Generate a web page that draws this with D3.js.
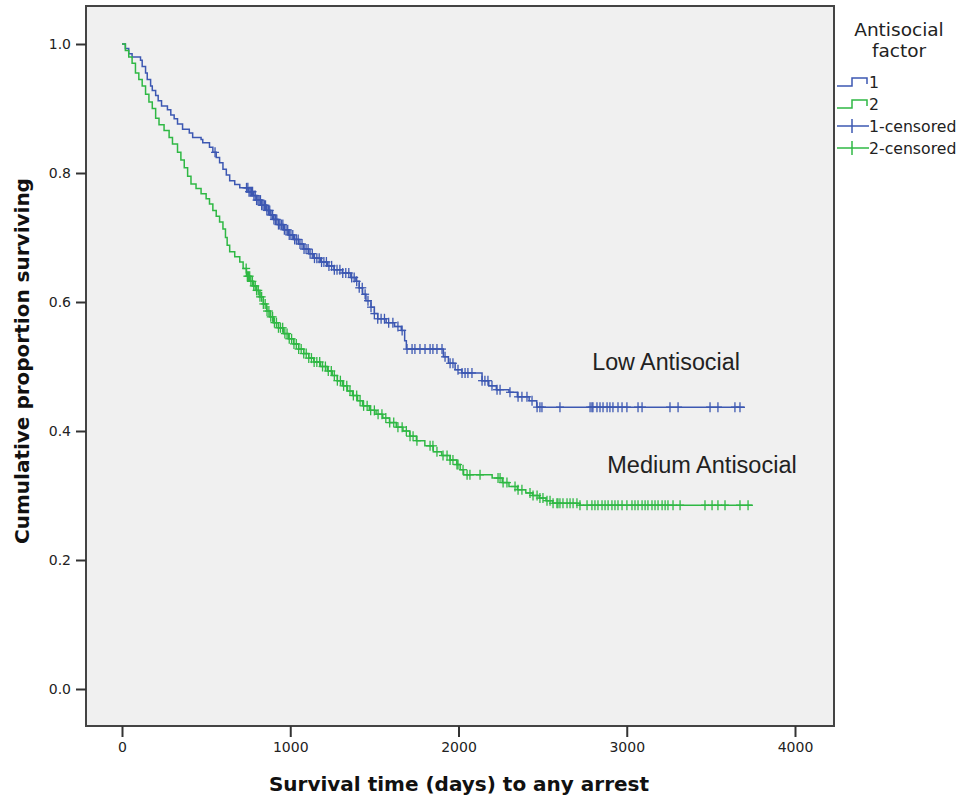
<!DOCTYPE html>
<html>
<head>
<meta charset="utf-8">
<script src="https://cdn.jsdelivr.net/npm/d3@7"></script>
<style>
  body { margin: 0; background: #fff; }
  text { font-family: "DejaVu Sans", sans-serif; }
</style>
</head>
<body>
<svg id="chart" width="968" height="803"></svg>
<script>
// ---- data ----
var xTicks = [0, 1000, 2000, 3000, 4000];
var yTicks = [0, 0.2, 0.4, 0.6, 0.8, 1.0];

// group 1 (Low Antisocial): event times and survival after each step
var lowTimes = [0, 20, 40, 60, 110, 120, 140, 150, 170, 180, 200, 215, 235, 270, 290, 310, 330, 360, 400, 420, 470, 480, 520, 540, 560, 580, 600, 620, 640, 670, 700, 750, 780, 800, 830, 860, 880, 900, 930, 960, 990, 1020, 1050, 1080, 1110, 1140, 1180, 1220, 1260, 1310, 1360, 1390, 1410, 1430, 1450, 1480, 1500, 1520, 1570, 1620, 1660, 1680, 1690, 1910, 1940, 1980, 2020, 2140, 2180, 2225, 2300, 2350, 2420, 2465];
var lowSurv  = [1.0, 0.993, 0.985, 0.98, 0.975, 0.965, 0.955, 0.945, 0.935, 0.928, 0.92, 0.912, 0.904, 0.898, 0.89, 0.884, 0.876, 0.868, 0.862, 0.855, 0.852, 0.847, 0.84, 0.832, 0.824, 0.816, 0.806, 0.797, 0.788, 0.782, 0.777, 0.771, 0.765, 0.758, 0.75, 0.742, 0.735, 0.728, 0.72, 0.712, 0.704, 0.697, 0.69, 0.682, 0.675, 0.668, 0.662, 0.656, 0.65, 0.645, 0.638, 0.632, 0.622, 0.612, 0.602, 0.592, 0.582, 0.574, 0.568, 0.562, 0.556, 0.54, 0.527, 0.515, 0.505, 0.495, 0.49, 0.478, 0.47, 0.464, 0.46, 0.453, 0.447, 0.437];
var lowEnd = 3703;
var lowCensor = [553, 740, 748, 755, 762, 769, 776, 784, 792, 800, 808, 815, 823, 830, 838, 846, 853, 861, 870, 878, 886, 895, 903, 912, 920, 930, 938, 947, 956, 965, 975, 985, 994, 1004, 1015, 1026, 1036, 1047, 1058, 1070, 1082, 1094, 1106, 1118, 1131, 1144, 1158, 1172, 1186, 1200, 1215, 1230, 1246, 1262, 1278, 1295, 1312, 1330, 1348, 1365, 1380, 1395, 1410, 1428, 1445, 1462, 1480, 1500, 1520, 1540, 1560, 1585, 1610, 1640, 1665, 1694, 1724, 1741, 1771, 1801, 1831, 1848, 1872, 1902, 1920, 1950, 1967, 1997, 2021, 2039, 2056, 2080, 2140, 2157, 2175, 2199, 2229, 2247, 2306, 2354, 2377, 2407, 2437, 2467, 2484, 2496, 2603, 2782, 2793, 2799, 2823, 2841, 2859, 2883, 2900, 2918, 2948, 2972, 3001, 3067, 3091, 3257, 3305, 3495, 3542, 3643, 3673];

// group 2 (Medium Antisocial)
var medTimes = [0, 20, 40, 60, 80, 100, 120, 140, 160, 180, 200, 220, 250, 280, 300, 330, 350, 370, 390, 410, 440, 470, 500, 520, 540, 560, 580, 600, 615, 625, 640, 670, 700, 720, 740, 760, 780, 800, 820, 840, 860, 880, 900, 930, 960, 990, 1020, 1050, 1080, 1110, 1140, 1180, 1220, 1250, 1280, 1310, 1340, 1370, 1400, 1430, 1470, 1510, 1550, 1590, 1630, 1670, 1710, 1750, 1800, 1850, 1900, 1950, 1990, 2010, 2030, 2200, 2260, 2300, 2350, 2400, 2440, 2480, 2520, 2560, 2720];
var medSurv  = [1.0, 0.99, 0.98, 0.97, 0.955, 0.945, 0.935, 0.922, 0.91, 0.9, 0.885, 0.875, 0.866, 0.855, 0.845, 0.832, 0.82, 0.808, 0.795, 0.783, 0.776, 0.768, 0.76, 0.752, 0.742, 0.733, 0.724, 0.713, 0.7, 0.688, 0.678, 0.67, 0.662, 0.652, 0.64, 0.632, 0.625, 0.618, 0.608, 0.597, 0.586, 0.577, 0.568, 0.56, 0.551, 0.543, 0.535, 0.527, 0.52, 0.513, 0.507, 0.5, 0.493, 0.486, 0.478, 0.47, 0.462, 0.455, 0.447, 0.439, 0.432, 0.426, 0.42, 0.413, 0.406, 0.4, 0.392, 0.385, 0.377, 0.368, 0.362, 0.355, 0.348, 0.34, 0.332, 0.327, 0.32, 0.314, 0.309, 0.304, 0.3, 0.296, 0.292, 0.288, 0.285];
var medEnd = 3750;
var medCensor = [738, 745, 752, 759, 766, 775, 783, 792, 800, 810, 820, 830, 840, 851, 862, 873, 884, 895, 906, 918, 930, 942, 955, 968, 981, 994, 1008, 1022, 1036, 1050, 1065, 1080, 1095, 1110, 1126, 1142, 1158, 1175, 1192, 1209, 1226, 1244, 1262, 1280, 1298, 1317, 1336, 1355, 1375, 1395, 1415, 1436, 1457, 1478, 1500, 1522, 1545, 1568, 1591, 1615, 1640, 1665, 1690, 1712, 1730, 1753, 1831, 1848, 1872, 1908, 1932, 1950, 1967, 1991, 1997, 2027, 2051, 2068, 2128, 2235, 2247, 2265, 2288, 2336, 2354, 2377, 2425, 2443, 2467, 2484, 2502, 2526, 2544, 2562, 2585, 2591, 2603, 2621, 2645, 2663, 2681, 2704, 2722, 2764, 2793, 2811, 2829, 2853, 2871, 2889, 2912, 2930, 2948, 2972, 3001, 3031, 3049, 3067, 3091, 3109, 3126, 3150, 3168, 3186, 3210, 3228, 3245, 3275, 3317, 3465, 3507, 3542, 3584, 3673, 3721];

var groups = [
  { key: "1", label: "Low Antisocial", color: "#3d58b2", times: lowTimes, surv: lowSurv, end: lowEnd, censor: lowCensor },
  { key: "2", label: "Medium Antisocial", color: "#2fb844", times: medTimes, surv: medSurv, end: medEnd, censor: medCensor }
];

// ---- layout ----
var frame = { left: 86, right: 834, top: 6, bottom: 726 };
var svg = d3.select("#chart");

var x = d3.scaleLinear().domain([0, 4000]).range([122, 795]);
var y = d3.scaleLinear().domain([0, 1]).range([689, 44]);

svg.append("rect")
  .attr("x", frame.left).attr("y", frame.top)
  .attr("width", frame.right - frame.left).attr("height", frame.bottom - frame.top)
  .attr("fill", "#f0f0f0")
  .attr("stroke", "#444").attr("stroke-width", 2);

// axes
var yAxis = svg.append("g")
  .attr("transform", "translate(" + frame.left + ",0)")
  .call(d3.axisLeft(y).tickValues(yTicks).tickFormat(d3.format(".1f")).tickSize(10).tickPadding(5));
var xAxis = svg.append("g")
  .attr("transform", "translate(0," + frame.bottom + ")")
  .call(d3.axisBottom(x).tickValues(xTicks).tickFormat(d3.format("d")).tickSize(11).tickPadding(5));

[xAxis, yAxis].forEach(function (a) {
  a.select(".domain").remove();
  a.selectAll(".tick line").attr("stroke", "#333").attr("stroke-width", 2);
  a.selectAll(".tick text").attr("fill", "#222")
    .style("font-family", "'DejaVu Sans', sans-serif").style("font-size", "14px");
});

svg.append("text")
  .attr("x", 459).attr("y", 791)
  .attr("text-anchor", "middle")
  .attr("font-weight", "bold").style("font-size", "20px").attr("fill", "#111")
  .text("Survival time (days) to any arrest");

svg.append("text")
  .attr("transform", "translate(29,361) rotate(-90)")
  .attr("text-anchor", "middle")
  .attr("font-weight", "bold").style("font-size", "20px").attr("fill", "#111")
  .text("Cumulative proportion surviving");

// curves
function survAt(g, t) {
  var i = d3.bisectRight(g.times, t) - 1;
  return g.surv[Math.max(0, i)];
}

var line = d3.line()
  .x(function (d) { return x(d[0]); })
  .y(function (d) { return y(d[1]); })
  .curve(d3.curveStepAfter);

var plot = svg.append("g");

groups.forEach(function (g) {
  var pts = g.times.map(function (t, i) { return [t, g.surv[i]]; });
  pts.push([g.end, g.surv[g.surv.length - 1]]);

  plot.append("path")
    .datum(pts)
    .attr("fill", "none")
    .attr("stroke", g.color)
    .attr("stroke-width", 1.5)
    .attr("d", line);

  var marks = plot.append("g").selectAll("g")
    .data(g.censor)
    .join("g")
    .attr("transform", function (t) { return "translate(" + x(t) + "," + y(survAt(g, t)) + ")"; });
  marks.append("line").attr("x1", -4).attr("x2", 4).attr("y1", 0).attr("y2", 0);
  marks.append("line").attr("x1", 0).attr("x2", 0).attr("y1", -5).attr("y2", 5);
  marks.selectAll("line").attr("stroke", g.color).attr("stroke-width", 1.3);
});

// curve labels
svg.append("text").attr("x", 666).attr("y", 370).attr("text-anchor", "middle")
  .style("font-family", "'Liberation Sans', Arial, sans-serif")
  .style("font-size", "23.3px").attr("fill", "#222").text(groups[0].label);
svg.append("text").attr("x", 702).attr("y", 473).attr("text-anchor", "middle")
  .style("font-family", "'Liberation Sans', Arial, sans-serif")
  .style("font-size", "23.5px").attr("fill", "#222").text(groups[1].label);

// legend
var legend = svg.append("g");
legend.append("text").attr("x", 899).attr("y", 36).attr("text-anchor", "middle")
  .style("font-size", "18.5px").attr("fill", "#222").text("Antisocial");
legend.append("text").attr("x", 899).attr("y", 57).attr("text-anchor", "middle")
  .style("font-size", "18.5px").attr("fill", "#222").text("factor");

var items = [
  { name: "1", color: groups[0].color, censored: false },
  { name: "2", color: groups[1].color, censored: false },
  { name: "1-censored", color: groups[0].color, censored: true },
  { name: "2-censored", color: groups[1].color, censored: true }
];
var itemY = [82, 104, 126, 148];

items.forEach(function (it, i) {
  var gy = itemY[i];
  var row = legend.append("g").attr("transform", "translate(0," + gy + ")");
  if (it.censored) {
    row.append("line").attr("x1", 837).attr("x2", 869).attr("y1", 0).attr("y2", 0);
    row.append("line").attr("x1", 852).attr("x2", 852).attr("y1", -7).attr("y2", 7);
    row.selectAll("line").attr("stroke", it.color).attr("stroke-width", 1.5);
  } else {
    row.append("path")
      .attr("d", "M837,4H852V-4H867V2")
      .attr("fill", "none").attr("stroke", it.color).attr("stroke-width", 1.5);
  }
  row.append("text").attr("x", 869).attr("y", 5.5)
    .style("font-size", "15.7px").attr("fill", "#222").text(it.name);
});
</script>
</body>
</html>
